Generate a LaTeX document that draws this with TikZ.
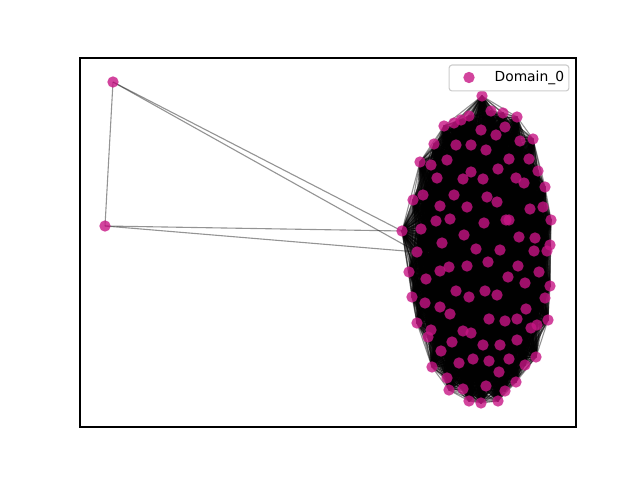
\documentclass[tikz,border=0pt]{standalone}
\usepackage{fontspec}
\setmainfont{DejaVu Sans}
\usepackage{xcolor}
\usetikzlibrary{backgrounds, positioning}

\definecolor{domainpink}{RGB}{199,21,133}

\begin{document}
\begin{tikzpicture}[
    x=0.01in, y=-0.01in,
    % === STYLES ===
    member/.style={
        circle,
        fill=domainpink,
        fill opacity=0.8,
        inner sep=0pt,
        minimum size=8.2pt
    },
    link/.style={
        draw=black,
        draw opacity=0.42,
        line width=0.8pt
    },
    legendbox/.style={
        draw=gray!40,
        fill=white,
        fill opacity=0.8,
        rounded corners=2pt,
        line width=0.8pt,
        minimum width=86.4pt,
        minimum height=18.7pt
    },
    legendtext/.style={
        font=\fontsize{10}{12}\selectfont,
        inner sep=0pt
    }
]
\useasboundingbox (0,0) rectangle (640,480);

% === CLUSTER (Domain_0) ===
\foreach \px/\py [count=\i] in {
    482/96, 491/111, 503/113, 517/117, 469/116, 461/120, 454/123, 444/126,
    481/130, 505/127, 496/135, 533/139, 520/141, 434/144, 456/145, 471/145,
    486/150,
    420/162, 431/165, 447/160, 509/159, 529/159, 437/178, 471/172, 463/179,
    483/179, 498/169, 538/171, 516/178, 524/183, 545/187, 423/195, 413/200,
    454/195, 487/197, 497/202, 440/206, 467/207, 530/209, 543/207,
    402/231, 421/229, 436/221, 450/219, 484/223, 506/220, 509/220, 551/220,
    464/235, 442/243, 519/237, 535/238, 417/252, 476/249, 500/250, 534/251,
    547/251, 550/245, 409/272, 440/271, 449/267, 467/266, 488/262, 518/266,
    539/272,
    426/279, 508/277, 525/283, 550/286, 412/297, 456/291, 469/297, 485/291,
    497/295, 545/298, 425/303, 440/307, 450/314, 526/309, 417/323, 489/319,
    505/321, 517/319, 548/320, 431/330, 428/337, 463/331, 471/333, 537/325,
    531/328,
    452/342, 483/345, 500/345, 517/340, 441/351, 536/357, 459/363, 473/359,
    489/361, 509/359, 525/365, 432/367, 499/372, 447/378, 516/382, 449/390,
    463/389, 486/386, 505/391, 469/401, 481/403, 498/401}
    \node[member] (n\i) at (\px,\py) {};

% === OUTLIERS ===
\node[member] (outa) at (113,82) {};
\node[member] (outb) at (105,226) {};

% === EDGES ===
\begin{scope}[on background layer]
    % every pair inside the cluster
    \foreach \i in {1,...,111}{
        \pgfmathtruncatemacro\nxt{\i+1}
        \foreach \j in {\nxt,...,112}{
            \draw[link] (n\i.center) -- (n\j.center);
        }
    }
    % links of the two outliers
    \draw[link] (outa.center) -- (outb.center);
    \draw[link] (outa.center) -- (n41.center);
    \draw[link] (outa.center) -- (n53.center);
    \draw[link] (outb.center) -- (n41.center);
    \draw[link] (outb.center) -- (n53.center);
\end{scope}

% === AXES FRAME ===
\draw[line width=0.8pt] (80,58) rectangle (576,427);

% === LEGEND ===
\node[legendbox] (legend) at (509,78) {};
\node[member] (key) at (469,77.5) {};
\node[legendtext, right=14pt of key] (keytext) {Domain\_0};

\end{tikzpicture}
\end{document}
